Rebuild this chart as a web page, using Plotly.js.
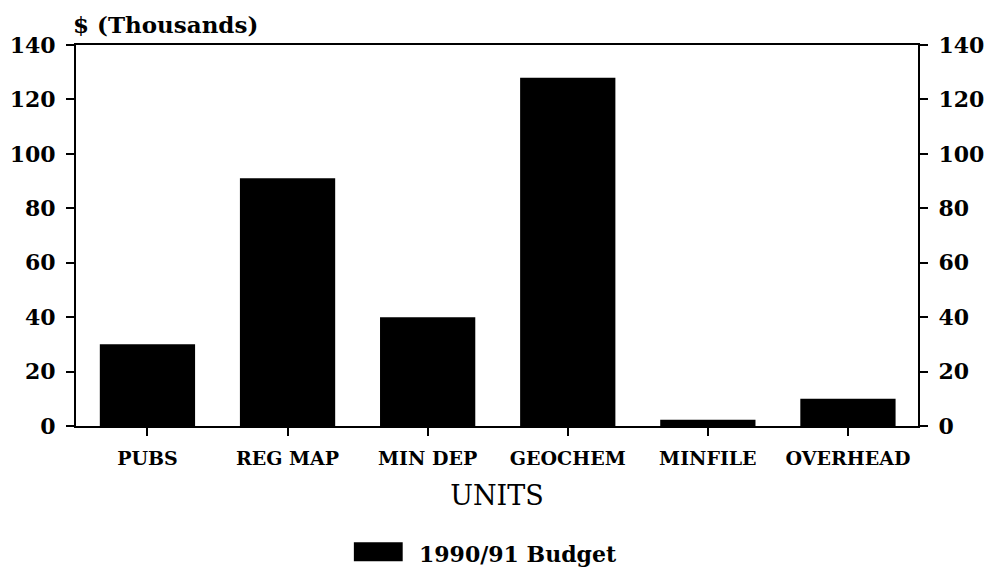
<!DOCTYPE html>
<html>
<head>
<meta charset="utf-8">
<script src="https://cdn.plot.ly/plotly-3.0.1.min.js"></script>
<style>html,body{margin:0;padding:0;background:#fff}#chart{width:988px;height:570px}</style>
</head>
<body>
<div id="chart"></div>
<script>
var categories = ["PUBS", "REG MAP", "MIN DEP", "GEOCHEM", "MINFILE", "OVERHEAD"];
var budget = [30, 91, 40, 128, 2.3, 10];
var tickValues = [0, 20, 40, 60, 80, 100, 120, 140];
var seriesName = "1990/91 Budget";

var serif = "DejaVu Serif, Liberation Serif, serif";
var tickFont = {family: serif, size: 22, color: "#000", weight: "bold"};

var traces = [
  {type: "bar", x: categories, y: budget, name: seriesName, width: 0.68,
   marker: {color: "#000", line: {width: 0}}, showlegend: false, yaxis: "y"},
  {type: "bar", x: categories, y: budget.map(function(){return null;}), yaxis: "y2",
   showlegend: false, hoverinfo: "skip"}
];

var layout = {
  width: 988, height: 570,
  margin: {l: 76, r: 70, t: 45, b: 144},
  paper_bgcolor: "#fff", plot_bgcolor: "#fff",
  showlegend: false,
  xaxis: {
    type: "category", range: [-0.51, 5.5],
    showline: true, linecolor: "#000", linewidth: 2, mirror: true,
    ticks: "outside", ticklen: 8, tickwidth: 2, tickcolor: "#000",
    ticklabelstandoff: 6,
    tickfont: {family: serif, size: 19, color: "#000", weight: "bold"},
    showgrid: false, zeroline: false,
    title: {text: "UNITS", font: {family: serif, size: 27, color: "#000"}, standoff: 18}
  },
  yaxis: {
    range: [0, 140], tickvals: tickValues, ticktext: tickValues.map(String),
    showline: true, linecolor: "#000", linewidth: 2,
    ticks: "outside", ticklen: 8, tickwidth: 2, tickcolor: "#000",
    ticklabelstandoff: 6,
    tickfont: tickFont, showgrid: false, zeroline: false
  },
  yaxis2: {
    overlaying: "y", side: "right", range: [0, 140], tickvals: tickValues,
    ticktext: tickValues.map(String),
    showline: true, linecolor: "#000", linewidth: 2,
    ticks: "outside", ticklen: 8, tickwidth: 2, tickcolor: "#000",
    ticklabelstandoff: 6,
    tickfont: tickFont, showgrid: false, zeroline: false
  },
  shapes: [
    {type: "rect", xref: "paper", yref: "paper", x0: 0.33, x1: 0.388, y0: -0.355, y1: -0.305,
     fillcolor: "#000", line: {width: 0}}
  ],
  annotations: [
    {xref: "paper", yref: "paper", x: -0.006, y: 1.012, xanchor: "left", yanchor: "bottom",
     text: "$ (Thousands)", showarrow: false, font: {family: serif, size: 23, color: "#000", weight: "bold"}},
    {xref: "paper", yref: "paper", x: 0.405, y: -0.335, xanchor: "left", yanchor: "middle",
     text: seriesName, showarrow: false, font: {family: serif, size: 22, color: "#000", weight: "bold"}}
  ]
};

Plotly.newPlot("chart", traces, layout, {displayModeBar: false, staticPlot: true});
</script>
</body>
</html>
